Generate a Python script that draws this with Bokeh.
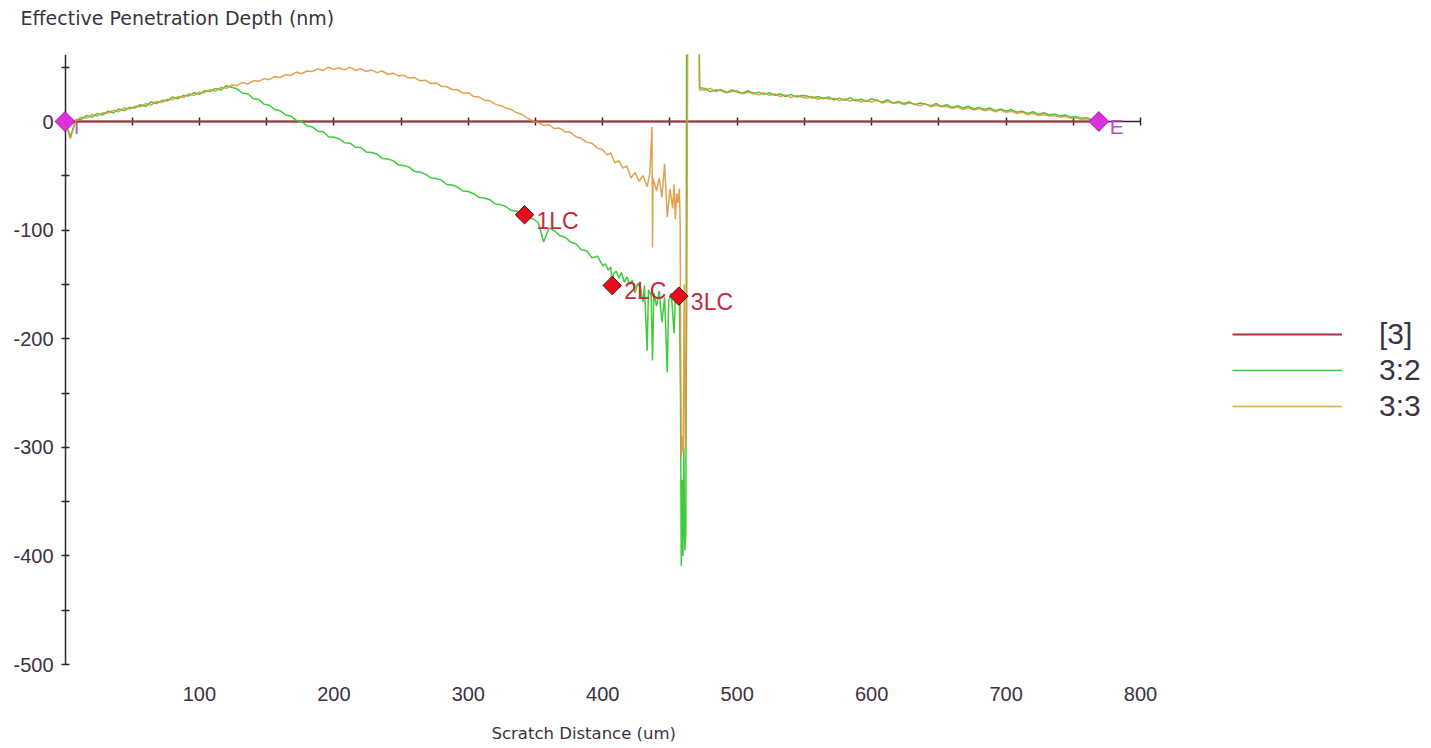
import math
from bokeh.plotting import figure
from bokeh.models import (Range1d, LinearAxis, FixedTicker, Legend, LegendItem,
                          ColumnDataSource)
from bokeh.core.properties import value
from bokeh.embed import file_html
from bokeh.resources import INLINE

# ---------------- data ----------------
x_tick_labels = [100, 200, 300, 400, 500, 600, 700, 800]
y_tick_labels = [-500, -400, -300, -200, -100, 0]
x_axis_ticks = [50, 100, 150, 200, 250, 300, 350, 400, 450, 500, 550, 600, 650, 700, 750, 800]
y_axis_ticks = [-500, -450, -400, -350, -300, -250, -200, -150, -100, -50, 0, 50]

# [3] reference line
red_x = [0, 769]
red_y = [0, 0]

# 3:2 (green) ------------------------------------------------
green_x_head = list(range(0, 401, 4))
green_y_head = [
    0.0, -14.0, 1.5, 2.0, 5.5, 4.0, 7.5, 6.0, 9.5, 8.0,
    11.5, 10.0, 13.0, 12.5, 15.5, 14.0, 18.0, 16.5, 19.5, 19.0,
    22.5, 21.0, 24.0, 23.5, 26.5, 25.0, 28.5, 27.5, 30.5, 29.0,
    33.0, 31.5, 30.0, 26.0, 25.5, 21.0, 20.5, 16.0, 15.0, 11.0,
    10.0, 6.0, 5.0, 1.0, 0.0, -4.0, -5.0, -9.0, -9.5, -14.0,
    -14.5, -16.0, -19.5, -20.0, -23.5, -24.0, -28.0, -28.5, -30.0, -34.0,
    -34.5, -36.0, -40.0, -40.5, -42.0, -46.0, -46.5, -48.5, -52.0, -52.5,
    -54.0, -58.0, -58.5, -60.5, -64.0, -64.5, -66.5, -70.0, -70.5, -72.0,
    -76.0, -76.5, -78.5, -82.0, -82.5, -84.5, -88.0, -89.5, -93.0, -111.0,
    -98.0, -100.5, -105.0, -106.5, -111.0, -112.5, -118.0, -119.0, -125.5, -124.0,
    -133.0,
]
green_x_mid = [
    402, 404, 406, 407, 408, 410, 412, 414, 416, 418,
    420, 422, 424, 426, 428, 430, 431, 433, 434, 436,
    437, 438, 440, 442, 444, 446, 448, 449, 451, 453,
    454, 456, 457, 457.8, 458.4, 459.0, 459.6, 460.3, 461.0, 461.8,
    462.4, 471.6, 472.0,
]
green_y_mid = [
    -131, -137, -134, -151, -140, -138, -144, -139, -148, -143,
    -150, -146, -158, -149, -153, -166, -151, -211, -155, -160,
    -220, -158, -170, -156, -185, -162, -231, -165, -158, -195,
    -163, -161, -161, -250, -409, -330, -400, -300, -395, -380,
    80, 80, 31,
]
green_x_tail = list(range(476, 769, 4))
green_y_tail = [
    30.5, 27.5, 29.0, 28.5, 26.5, 29.0, 27.0, 26.0, 28.5, 25.5,
    27.0, 25.0, 26.5, 24.0, 25.5, 23.0, 25.0, 22.5, 24.0, 23.5,
    21.5, 23.0, 21.0, 22.5, 20.0, 21.5, 19.5, 22.0, 19.0, 20.5,
    18.5, 21.0, 19.0, 18.0, 20.0, 17.0, 18.5, 16.5, 18.0, 15.5,
    17.0, 16.0, 14.5, 16.5, 14.0, 15.5, 13.0, 14.5, 12.5, 14.0,
    11.5, 13.0, 11.0, 12.5, 10.0, 11.5, 9.5, 11.0, 8.5, 9.5,
    7.5, 9.0, 6.5, 8.0, 6.0, 7.0, 5.0, 6.0, 4.0, 4.5,
    3.0, 3.5, 1.5, 1.0,
]

# 3:3 (orange) -----------------------------------------------
orange_x_head = list(range(0, 401, 4))
orange_y_head = [
    0.0, -16.0, 0.5, 4.0, 3.0, 6.5, 5.0, 8.0, 7.5, 10.5,
    9.0, 12.5, 11.5, 14.0, 13.5, 16.5, 15.0, 18.5, 17.5, 20.5,
    20.0, 23.0, 22.0, 25.5, 24.0, 27.0, 26.5, 29.5, 28.0, 31.5,
    30.5, 33.5, 33.0, 36.0, 34.5, 37.5, 37.0, 39.5, 38.5, 41.5,
    40.5, 43.0, 42.5, 45.5, 44.0, 46.5, 46.0, 48.5, 47.0, 50.0,
    48.0, 49.5, 47.5, 50.0, 47.0, 48.5, 46.0, 47.5, 45.0, 46.5,
    43.5, 44.5, 42.0, 42.5, 40.0, 40.5, 37.5, 38.0, 35.0, 35.5,
    32.5, 32.0, 29.5, 29.0, 26.0, 26.5, 23.0, 22.5, 19.5, 19.0,
    16.0, 14.5, 12.5, 11.0, 8.0, 6.5, 3.0, 0.5, -1.0, -3.5,
    -3.0, -6.5, -6.0, -9.5, -10.0, -14.0, -15.5, -19.0, -20.0, -24.5,
    -26.0,
]
orange_x_mid = [
    403, 406, 409, 412, 415, 418, 421, 424, 427, 430,
    433, 435, 436.6, 437.0, 437.4, 438, 440, 442, 444, 446,
    448, 450, 452, 453, 454, 455, 456, 457, 457.6, 458.2,
    459.0, 459.8, 460.6, 461.4, 462.4, 463.2, 471.8, 472.1,
]
orange_y_mid = [
    -31, -29, -38, -36, -43, -41, -52, -47, -55, -50,
    -60, -48, -5, -116, -52, -55, -64, -52, -70, -39,
    -88, -62, -80, -58, -90, -66, -75, -62, -95, -310,
    -290, -305, -150, -300, -200, 80, 80, 29,
]
orange_x_tail = list(range(476, 769, 4))
orange_y_tail = [
    29.0, 30.5, 27.5, 29.5, 27.0, 27.5, 28.5, 25.5, 27.0, 26.5,
    24.5, 26.5, 24.0, 25.5, 23.0, 24.5, 22.0, 24.0, 22.5, 21.5,
    23.0, 20.5, 22.0, 20.5, 21.5, 19.0, 21.0, 18.5, 20.5, 18.0,
    19.5, 18.0, 20.0, 17.0, 18.5, 16.5, 17.5, 15.5, 17.0, 16.0,
    14.5, 16.5, 13.5, 15.0, 13.5, 14.0, 12.0, 13.5, 11.0, 12.5,
    10.5, 12.0, 10.0, 11.0, 9.0, 10.5, 8.5, 9.5, 7.5, 8.5,
    6.5, 7.5, 5.5, 6.5, 5.0, 5.5, 4.0, 4.5, 3.0, 3.5,
    2.0, 2.5, 1.0, 0.5,
]

# markers
end_x = [0, 769]
end_y = [0, 0]
end_label = ["I", "E"]
lc_x = [341.8, 407.0, 456.6]
lc_y = [-85.9, -151.0, -160.8]
lc_label = ["1LC", "2LC", "3LC"]

series_names = ["[3]", "3:2", "3:3"]
y_title = "Effective Penetration Depth (nm)"
x_title = "Scratch Distance  (um)"

# ---------------- styling / layout ----------------
TXT = "#3c3241"
AX = "#2e2433"
RED = "#a8323f"
GREEN = "#3fcb3a"
ORANGE = "#dc9332"
NUM_FONT = "Liberation Sans"
TITLE_FONT = "DejaVu Sans"

W, H = 1431, 748
B_LEFT, B_RIGHT, B_TOP, B_BOTTOM = 42, 2, 54, 80
# page pixel of data origin and pixels per data unit
PX_X0, PX_PER_X = 64.5, 1.3444
PX_Y0, PX_PER_Y = 121.0, 1.086
f_left = B_LEFT
f_right = W - B_RIGHT
f_top = B_TOP
f_bottom = H - B_BOTTOM
x_start = (f_left - PX_X0) / PX_PER_X
x_end = (f_right - PX_X0) / PX_PER_X
y_end = (PX_Y0 - f_top) / PX_PER_Y
y_start = (PX_Y0 - f_bottom) / PX_PER_Y

p = figure(width=W, height=H, output_backend="svg", toolbar_location=None,
           x_range=Range1d(x_start, x_end), y_range=Range1d(y_start, y_end),
           min_border_left=B_LEFT, min_border_right=B_RIGHT,
           min_border_top=B_TOP, min_border_bottom=B_BOTTOM,
           outline_line_color=None, background_fill_color="white",
           border_fill_color="white")
p.grid.visible = False

# bottom label axis (numbers only)
xa = p.xaxis[0]
xa.ticker = FixedTicker(ticks=x_tick_labels, minor_ticks=[])
xa.axis_line_color = None
xa.major_tick_line_color = None
xa.minor_tick_line_color = None
xa.major_tick_in = 0
xa.major_tick_out = 0
xa.major_label_standoff = 18
xa.major_label_text_font = NUM_FONT
xa.major_label_text_font_size = "20px"
xa.major_label_text_color = TXT

# left label axis (numbers only)
ya = p.yaxis[0]
ya.ticker = FixedTicker(ticks=y_tick_labels, minor_ticks=[])
ya.axis_line_color = None
ya.major_tick_line_color = None
ya.minor_tick_line_color = None
ya.major_tick_in = 0
ya.major_tick_out = 0
ya.major_label_standoff = f_left - 53
ya.major_label_overrides = {v: str(v) for v in y_tick_labels}
ya.major_label_text_font = NUM_FONT
ya.major_label_text_font_size = "20px"
ya.major_label_text_color = TXT

# x axis line through y = 0 with ticks (ticks only, no labels)
xt = LinearAxis(ticker=FixedTicker(ticks=[], minor_ticks=x_axis_ticks),
                bounds=(0, 800), fixed_location=0, level="underlay",
                minor_tick_in=4, minor_tick_out=4,
                major_tick_in=0, major_tick_out=0,
                axis_line_color=AX, axis_line_width=1.5,
                minor_tick_line_color=AX, minor_tick_line_width=1.5,
                major_label_standoff=0)
p.add_layout(xt, "above")

# y axis line through x = 0 with ticks (ticks only, no labels)
yt = LinearAxis(ticker=FixedTicker(ticks=[], minor_ticks=y_axis_ticks),
                bounds=(-500, y_end), fixed_location=0, level="underlay",
                minor_tick_in=4, minor_tick_out=4,
                major_tick_in=0, major_tick_out=0,
                axis_line_color=AX, axis_line_width=1.5,
                minor_tick_line_color=AX, minor_tick_line_width=1.5,
                major_label_standoff=0)
p.add_layout(yt, "right")

# axis titles: anchored at the frame corners, shifted in pixels (overlay level is not clipped)
p.text(x=[x_start], y=[y_end], text=[y_title], x_offset=20 - f_left, y_offset=17 - f_top,
       text_font=value(TITLE_FONT), text_font_size="19px", text_color=TXT,
       text_align="left", text_baseline="middle", level="overlay")
p.text(x=[x_start], y=[y_start], text=[x_title], x_offset=491 - f_left, y_offset=733 - f_bottom,
       text_font=value(TITLE_FONT), text_font_size="16.5px", text_color=TXT,
       text_align="left", text_baseline="middle", level="overlay")

# start marker label drawn under the curves
end_src = ColumnDataSource(dict(x=end_x, y=end_y, t=end_label))
p.text(x=[end_x[0]], y=[end_y[0]], text=[end_label[0]], x_offset=9, y_offset=6,
       text_font=value(NUM_FONT), text_font_size="19px", text_color="#c050c8",
       text_align="left", text_baseline="middle")

# curves (glyph level, clipped to the frame)
r_red = p.line(red_x, red_y, line_color=RED, line_width=1.8)
r_green = p.line(green_x_head + green_x_mid + green_x_tail,
                 green_y_head + green_y_mid + green_y_tail,
                 line_color=GREEN, line_width=1.5)
r_orange = p.line(orange_x_head + orange_x_mid + orange_x_tail,
                  orange_y_head + orange_y_mid + orange_y_tail,
                  line_color=ORANGE, line_width=1.5, line_alpha=0.85)

# I / E markers
p.scatter("x", "y", source=end_src, marker="square", angle=math.pi / 4, size=14,
          fill_color="#de2fde", line_color="#9a1f9a", line_width=1)
p.text(x=[end_x[1]], y=[end_y[1]], text=[end_label[1]], x_offset=11, y_offset=5,
       text_font=value(NUM_FONT), text_font_size="21px", text_color="#b94fc6",
       text_align="left", text_baseline="middle")

# critical load markers
lc_src = ColumnDataSource(dict(x=lc_x, y=lc_y, t=lc_label))
p.scatter("x", "y", source=lc_src, marker="square", angle=math.pi / 4, size=13,
          fill_color="#e3101b", line_color="#5a0a0a", line_width=1)
p.text("x", "y", text="t", source=lc_src, x_offset=12, y_offset=6,
       text_font=value(NUM_FONT), text_font_size="23px", text_color="#c52a3a",
       text_align="left", text_baseline="middle")

legend = Legend(items=[LegendItem(label=series_names[0], renderers=[r_red]),
                       LegendItem(label=series_names[1], renderers=[r_green]),
                       LegendItem(label=series_names[2], renderers=[r_orange])],
                location=(1232 - f_left, f_bottom - 424),
                glyph_width=110, glyph_height=36, label_height=36,
                label_standoff=37, spacing=0, padding=0, margin=0,
                border_line_color=None, background_fill_alpha=0,
                label_text_font=NUM_FONT, label_text_font_size="30px",
                label_text_color=TXT)
p.add_layout(legend)

open("out.html", "w").write(file_html(p, INLINE))
